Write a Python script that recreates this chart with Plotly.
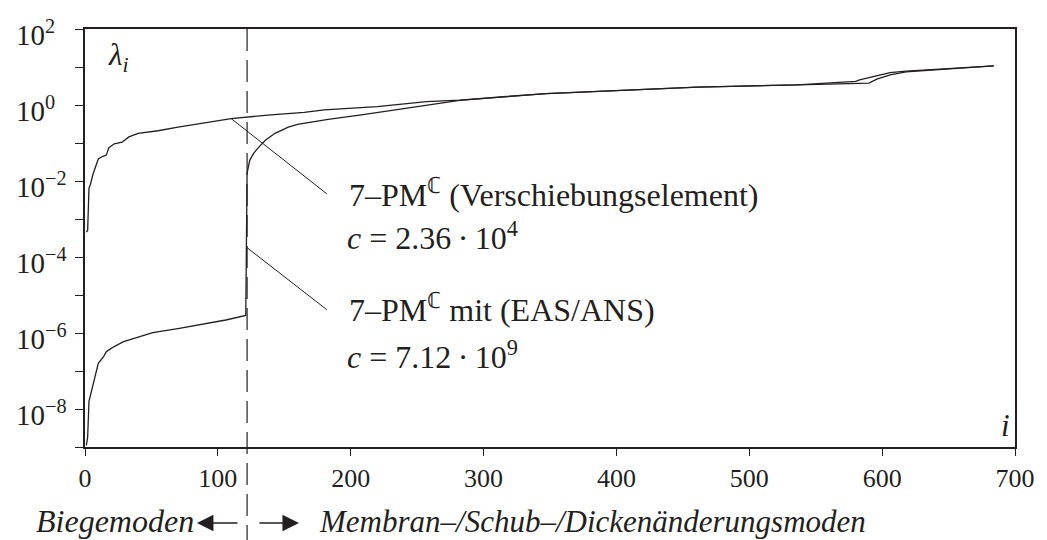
import plotly.graph_objects as go

# ---- data ----
# eigenvalue curve: 7-PM^C (Verschiebungselement), c = 2.36e4
i_disp = [1, 2, 3, 4, 6, 8, 10, 13, 16, 18, 22, 28, 33, 40, 55, 70, 90, 110,
          140, 165, 180, 220, 257, 282, 347, 461, 536, 580, 590, 596, 606, 618, 684]
lam_disp = [4.5e-4, 5.0e-4, 6.5e-3, 8.0e-3, 1.5e-2, 2.3e-2, 3.8e-2, 4.4e-2, 4.8e-2,
            7.5e-2, 9.5e-2, 1.05e-1, 1.45e-1, 1.8e-1, 2.1e-1, 2.6e-1, 3.4e-1, 4.4e-1,
            5.5e-1, 6.4e-1, 7.4e-1, 9.1e-1, 1.23, 1.35, 2.0, 2.95, 3.4, 3.7, 3.75,
            4.8, 6.2, 7.4, 10.7]

# eigenvalue curve: 7-PM^C mit (EAS/ANS), c = 7.12e9
i_eas = [1, 2, 3, 5, 8, 10, 14, 16, 18, 22, 29, 41, 51, 71, 86, 106, 121,
         122, 124, 127, 131, 136, 143, 153, 160, 170, 183, 208, 233, 257, 282,
         347, 461, 536, 580, 583, 591, 606, 618, 684]
lam_eas = [1.1e-9, 1.8e-9, 1.6e-8, 3.2e-8, 9.0e-8, 1.6e-7, 2.4e-7, 3.2e-7, 3.6e-7,
           4.4e-7, 5.9e-7, 7.9e-7, 1.02e-6, 1.32e-6, 1.62e-6, 2.2e-6, 2.9e-6,
           1.6e-2, 3.5e-2, 5.4e-2, 7.9e-2, 1.2e-1, 1.8e-1, 2.6e-1, 3.1e-1, 3.6e-1,
           4.2e-1, 5.5e-1, 7.4e-1, 1.0, 1.33, 2.0, 2.95, 3.4, 4.2, 4.6, 5.4, 7.1,
           7.8, 10.7]

x_ticks = [0, 100, 200, 300, 400, 500, 600, 700]
y_decades = list(range(-9, 3))
y_label_exps = [2, 0, -2, -4, -6, -8]
split_index = 122

# leader lines (from curve to label)
leader1_i = [110, 182]
leader1_lam = [0.44, 4.6e-3]
leader2_i = [121.6, 182]
leader2_lam = [1.8e-4, 4.1e-6]

label1 = "7–PM<sup>ℂ</sup> (Verschiebungselement)"
label1c = "<i>c</i> = 2.36\u2009·\u200910<sup>4</sup>"
label2 = "7–PM<sup>ℂ</sup> mit (EAS/ANS)"
label2c = "<i>c</i> = 7.12\u2009·\u200910<sup>9</sup>"
left_caption = "<i>Biegemoden</i>"
right_caption = "<i>Membran–/Schub–/Dickenänderungsmoden</i>"

# ---- styling ----
FONT = "Liberation Serif"
INK = "#231f20"
W, H = 1047, 540
ML, MR, MT, MB = 85, 23, 29, 93
PW, PH = W - ML - MR, H - MT - MB


def px_x(p):
    return (p - ML) / PW


def px_y(p):
    return (H - MB - p) / PH


fig = go.Figure()
for xs, ys in [(i_disp, lam_disp), (i_eas, lam_eas)]:
    fig.add_trace(go.Scatter(x=xs, y=ys, mode="lines",
                             line=dict(color=INK, width=1.3),
                             hoverinfo="skip", showlegend=False))
for xs, ys in [(leader1_i, leader1_lam), (leader2_i, leader2_lam)]:
    fig.add_trace(go.Scatter(x=xs, y=ys, mode="lines",
                             line=dict(color=INK, width=1),
                             hoverinfo="skip", showlegend=False))

fig.add_shape(type="line", xref="x", yref="paper", x0=split_index, x1=split_index,
              y0=1, y1=px_y(540), line=dict(color=INK, width=1.2, dash="22px,9px"))

ann = []
# y tick labels (left aligned as in the reference)
for e in y_label_exps:
    s = str(e) if e >= 0 else "−" + str(-e)
    ann.append(dict(xref="paper", yref="y", x=px_x(13), y=e, xanchor="left",
                    yanchor="middle", yshift=-4, showarrow=False,
                    text=f"10<sup>{s}</sup>", font=dict(size=29, family=FONT)))
ann += [
    dict(xref="paper", yref="paper", x=px_x(106), y=px_y(57), xanchor="left",
         yanchor="middle", showarrow=False, text="<i>λ</i><sub><i>i</i></sub>",
         font=dict(size=31, family=FONT)),
    dict(xref="paper", yref="paper", x=px_x(1021), y=px_y(425), xanchor="right",
         yanchor="middle", showarrow=False, text="<i>i</i>", font=dict(size=31, family=FONT)),
    dict(xref="paper", yref="paper", x=px_x(350), y=px_y(193), xanchor="left",
         yanchor="middle", showarrow=False, text=label1, font=dict(size=32, family=FONT)),
    dict(xref="paper", yref="paper", x=px_x(348), y=px_y(236), xanchor="left",
         yanchor="middle", showarrow=False, text=label1c, font=dict(size=32, family=FONT)),
    dict(xref="paper", yref="paper", x=px_x(350), y=px_y(308), xanchor="left",
         yanchor="middle", showarrow=False, text=label2, font=dict(size=32, family=FONT)),
    dict(xref="paper", yref="paper", x=px_x(348), y=px_y(355), xanchor="left",
         yanchor="middle", showarrow=False, text=label2c, font=dict(size=32, family=FONT)),
    dict(xref="paper", yref="paper", x=px_x(197), y=px_y(521), xanchor="right",
         yanchor="middle", showarrow=False, text=left_caption, font=dict(size=32, family=FONT)),
    dict(xref="paper", yref="paper", x=px_x(319), y=px_y(521), xanchor="left",
         yanchor="middle", showarrow=False, text=right_caption, font=dict(size=31, family=FONT)),
    # arrows
    dict(xref="paper", yref="paper", x=px_x(198), y=px_y(523), ax=42, ay=0,
         text="", showarrow=True, arrowhead=2, arrowsize=2.2, arrowwidth=1.5,
         arrowcolor=INK),
    dict(xref="paper", yref="paper", x=px_x(301), y=px_y(523), ax=-41, ay=0,
         text="", showarrow=True, arrowhead=2, arrowsize=2.2, arrowwidth=1.5,
         arrowcolor=INK),
]

fig.update_layout(
    width=W, height=H, margin=dict(l=ML, r=MR, t=MT, b=MB),
    paper_bgcolor="white", plot_bgcolor="white", showlegend=False,
    font=dict(family=FONT, size=26, color=INK),
    annotations=ann,
)
fig.update_xaxes(range=[0, 700], tickvals=x_ticks, ticks="outside", ticklen=7,
                 tickwidth=1.3, tickcolor=INK, showline=True, linecolor=INK,
                 linewidth=1.5, mirror=True, showgrid=False, zeroline=False,
                 tickfont=dict(size=26, family=FONT))
fig.update_yaxes(type="log", range=[-9, 2], tickvals=[10.0 ** e for e in y_decades],
                 showticklabels=False, ticks="outside", ticklen=8, tickwidth=1.3,
                 tickcolor=INK, showline=True, linecolor=INK, linewidth=1.5,
                 mirror=True, showgrid=False, zeroline=False)

fig.write_html("out.html", config={"displayModeBar": False},
               post_script="document.body.style.margin='0';document.body.style.overflow='hidden';")
